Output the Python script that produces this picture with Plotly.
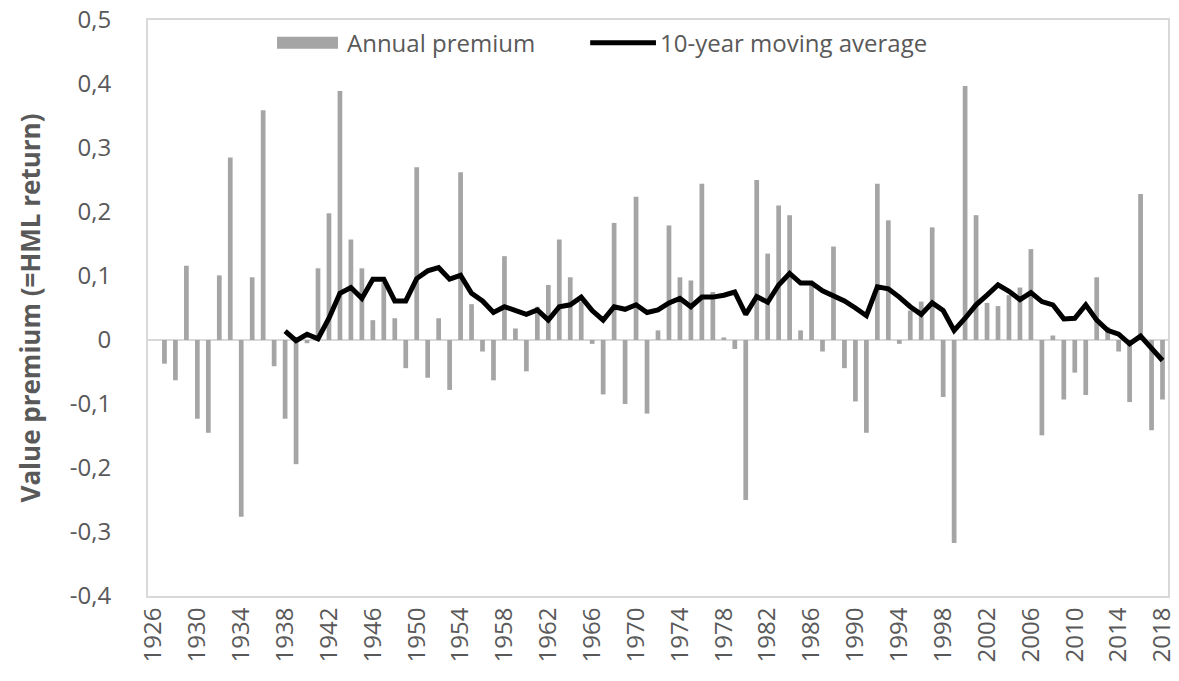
import plotly.graph_objects as go

years = list(range(1926, 2019))

# Annual value premium (HML), 1926 category is empty (data start 1927)
annual_premium = [
    None,
    -0.037, -0.063, 0.116, -0.123, -0.145, 0.101, 0.285, -0.276, 0.098, 0.359,   # 1927-1936
    -0.041, -0.123, -0.194, -0.005, 0.112, 0.198, 0.389, 0.157, 0.112, 0.031,    # 1937-1946
    0.090, 0.034, -0.044, 0.270, -0.059, 0.034, -0.078, 0.262, 0.056, -0.018,    # 1947-1956
    -0.063, 0.131, 0.018, -0.049, 0.052, 0.086, 0.157, 0.098, 0.060, -0.006,     # 1957-1966
    -0.085, 0.183, -0.100, 0.224, -0.115, 0.015, 0.179, 0.098, 0.093, 0.244,     # 1967-1976
    0.075, 0.004, -0.014, -0.250, 0.250, 0.135, 0.210, 0.195, 0.015, 0.090,      # 1977-1986
    -0.018, 0.146, -0.044, -0.096, -0.145, 0.244, 0.187, -0.006, 0.046, 0.060,   # 1987-1996
    0.176, -0.089, -0.317, 0.397, 0.195, 0.058, 0.053, 0.070, 0.082, 0.142,      # 1997-2006
    -0.149, 0.007, -0.093, -0.051, -0.086, 0.098, 0.020, -0.018, -0.097, 0.228,  # 2007-2016
    -0.141, -0.093,                                                              # 2017-2018
]

ma_years = list(range(1938, 2019))
moving_average = [
    0.014, -0.001, 0.009, 0.002, 0.034, 0.073, 0.082, 0.065, 0.095, 0.095,      # 1938-1947
    0.061, 0.061, 0.096, 0.108, 0.113, 0.095, 0.101, 0.073, 0.061, 0.043,       # 1948-1957
    0.052, 0.045, 0.040, 0.047, 0.031, 0.052, 0.055, 0.067, 0.046, 0.031,       # 1958-1967
    0.052, 0.048, 0.055, 0.043, 0.047, 0.058, 0.065, 0.052, 0.067, 0.067,       # 1968-1977
    0.070, 0.075, 0.040, 0.068, 0.059, 0.086, 0.104, 0.089, 0.089, 0.077,       # 1978-1987
    0.070, 0.061, 0.050, 0.038, 0.083, 0.080, 0.067, 0.052, 0.040, 0.058,       # 1988-1997
    0.046, 0.015, 0.034, 0.055, 0.070, 0.086, 0.076, 0.063, 0.074, 0.060,       # 1998-2007
    0.055, 0.033, 0.034, 0.055, 0.031, 0.015, 0.009, -0.006, 0.006, -0.012,     # 2008-2017
    -0.032,                                                                     # 2018
]

x_tick_years = list(range(1926, 2019, 4))
x_tick_labels = [str(y) for y in x_tick_years]
y_tick_values = [0.5, 0.4, 0.3, 0.2, 0.1, 0, -0.1, -0.2, -0.3, -0.4]
y_tick_labels = ["0,5", "0,4", "0,3", "0,2", "0,1", "0", "-0,1", "-0,2", "-0,3", "-0,4"]

series_names = ["Annual premium", "10-year moving average"]
BAR_COLOR = "#A5A5A5"
LINE_COLOR = "#000000"
GRAY_TEXT = "#595959"
FONT = "Open Sans"

fig = go.Figure()
fig.add_trace(go.Bar(
    x=years, y=annual_premium, name=series_names[0],
    marker=dict(color=BAR_COLOR, line=dict(width=0)),
    showlegend=False,
))
fig.add_trace(go.Scatter(
    x=ma_years, y=moving_average, name=series_names[1],
    mode="lines", line=dict(color=LINE_COLOR, width=5),
    showlegend=False,
))

# Legend drawn in paper coordinates (wide keys as in the original)
leg_y = 0.9604
fig.add_shape(type="rect", xref="paper", yref="paper",
              x0=0.1265, x1=0.1863, y0=leg_y - 0.0104, y1=leg_y + 0.0104,
              fillcolor=BAR_COLOR, line=dict(width=0))
fig.add_shape(type="line", xref="paper", yref="paper",
              x0=0.4335, x1=0.498, y0=leg_y, y1=leg_y,
              line=dict(color=LINE_COLOR, width=5))
fig.add_annotation(text=series_names[0], xref="paper", yref="paper",
                   x=0.1931, y=leg_y, xanchor="left", yanchor="middle",
                   showarrow=False, font=dict(size=24, color=GRAY_TEXT, family=FONT))
fig.add_annotation(text=series_names[1], xref="paper", yref="paper",
                   x=0.5, y=leg_y, xanchor="left", yanchor="middle",
                   showarrow=False, font=dict(size=24, color=GRAY_TEXT, family=FONT))

# the page body has an 8px margin, so the figure is sized to fit the window
fig.update_layout(
    width=1171, height=673,
    margin=dict(l=140, r=11, t=12, b=85),
    paper_bgcolor="white", plot_bgcolor="white",
    bargap=0.57,
    font=dict(family=FONT, color=GRAY_TEXT),
    showlegend=False,
)
fig.update_xaxes(
    range=[1925.5, 2018.5], automargin=False, ticklabeloverflow="allow",
    tickmode="array", tickvals=x_tick_years, ticktext=x_tick_labels,
    tickangle=-90, tickfont=dict(size=24, color=GRAY_TEXT, family=FONT),
    showgrid=False, zeroline=False, ticks="",
    showline=True, linecolor="#D9D9D9", linewidth=2, mirror=True,
)
fig.update_yaxes(
    range=[-0.4, 0.5], automargin=False, ticklabeloverflow="allow",
    tickmode="array", tickvals=y_tick_values, ticktext=y_tick_labels,
    tickfont=dict(size=24, color=GRAY_TEXT, family=FONT),
    showgrid=False, zeroline=True, zerolinecolor="#D9D9D9", zerolinewidth=2,
    ticks="", ticklabelstandoff=30,
    showline=True, linecolor="#D9D9D9", linewidth=2, mirror=True,
    title=dict(text="<b>Value premium (=HML return)</b>",
               font=dict(size=26, color=GRAY_TEXT, family=FONT), standoff=22),
)

fig.write_html("out.html")
